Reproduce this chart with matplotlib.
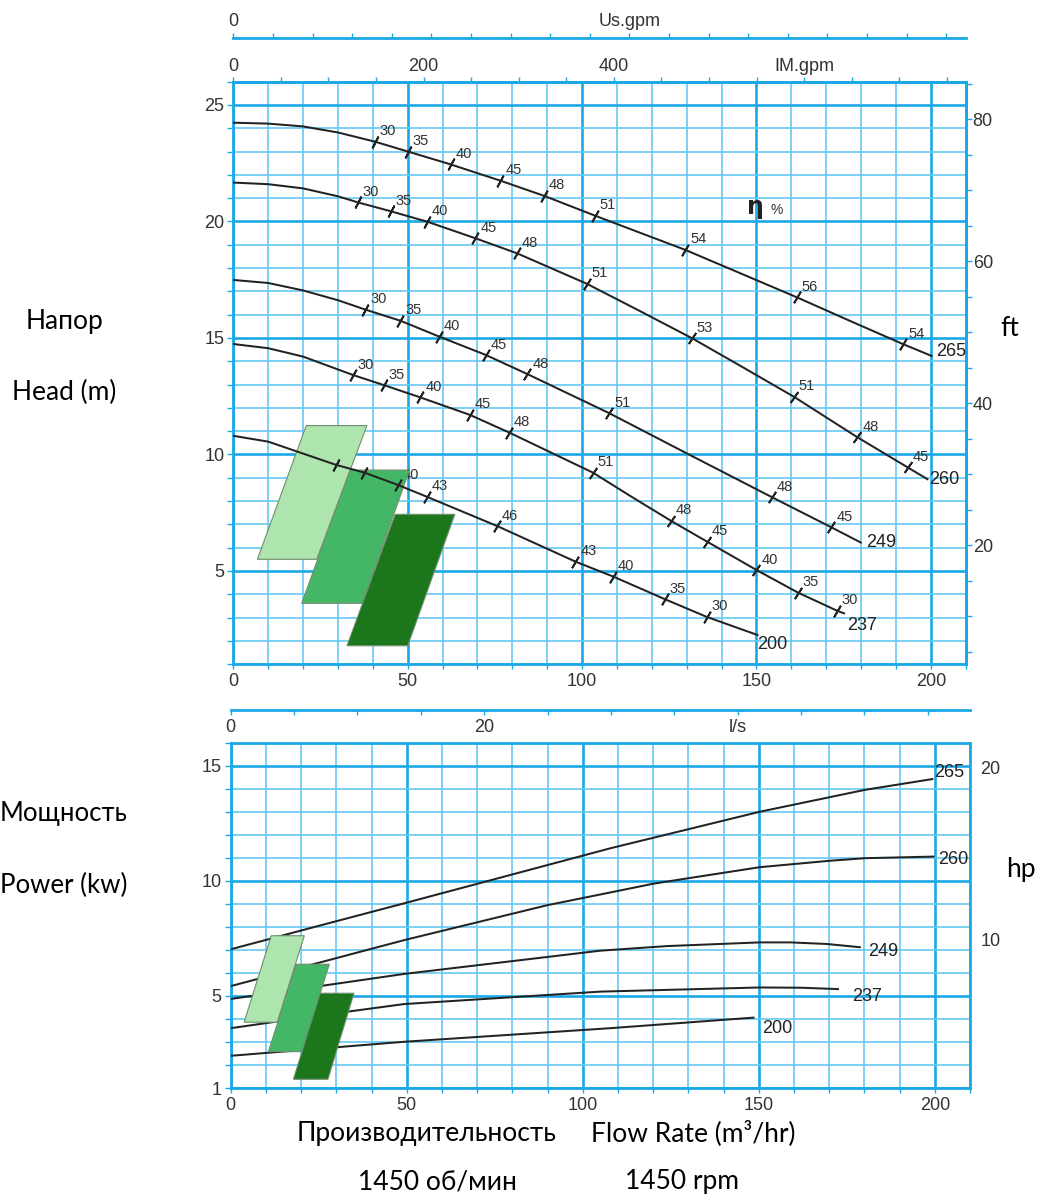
import numpy as np
import matplotlib
matplotlib.use('Agg')
import matplotlib.pyplot as plt
from matplotlib.patches import Polygon

# ---- Courbes de hauteur H(Q) : Q en m3/h, H en m ----
q_265 = [0, 10, 20, 30, 40.5, 50.1, 62.3, 76.6, 89.1, 103.7, 116, 129.6, 145, 161.5, 177, 192.1, 200.2]
h_265 = [24.24, 24.2, 24.08, 23.82, 23.43, 23.0, 22.45, 21.75, 21.1, 20.25, 19.55, 18.78, 17.8, 16.75, 15.72, 14.73, 14.23]
q_260 = [0, 10, 20, 30, 35.7, 45.1, 55.6, 69.4, 81.4, 101.3, 116, 131.5, 146, 160.7, 178.9, 193.3, 199]
h_260 = [21.67, 21.6, 21.42, 21.08, 20.82, 20.44, 19.99, 19.28, 18.63, 17.33, 16.2, 14.99, 13.75, 12.48, 10.74, 9.45, 8.94]
q_249 = [0, 10, 20, 30, 37.8, 47.9, 59, 72.4, 84.3, 107.8, 131, 154.5, 171.5, 179.9]
h_249 = [17.49, 17.36, 17.04, 16.62, 16.22, 15.74, 15.06, 14.27, 13.45, 11.77, 9.97, 8.16, 6.87, 6.22]
q_237 = [0, 10, 20, 34.3, 43.1, 53.6, 67.8, 79.1, 103.1, 114, 125.5, 135.8, 150, 161.9, 173, 175.1]
h_237 = [14.74, 14.56, 14.2, 13.41, 12.98, 12.45, 11.7, 10.94, 9.22, 8.2, 7.15, 6.26, 5.04, 4.07, 3.3, 3.18]
q_200 = [0, 10, 18, 29.5, 37.6, 47.2, 55.4, 75.6, 98.1, 108.9, 123.7, 135.7, 150.3]
h_200 = [10.8, 10.55, 10.14, 9.55, 9.22, 8.69, 8.19, 6.93, 5.40, 4.76, 3.79, 3.03, 2.25]

# ---- Rendement (%) le long de chaque courbe ----
eff_q_265 = [40.5, 50.1, 62.3, 76.6, 89.1, 103.7, 129.6, 161.5, 192.1]
eff_265 = ['30', '35', '40', '45', '48', '51', '54', '56', '54']
eff_q_260 = [35.7, 45.1, 55.6, 69.4, 81.4, 101.3, 131.5, 160.7, 178.9, 193.3]
eff_260 = ['30', '35', '40', '45', '48', '51', '53', '51', '48', '45']
eff_q_249 = [37.8, 47.9, 59, 72.4, 84.3, 107.8, 154.5, 171.5]
eff_249 = ['30', '35', '40', '45', '48', '51', '48', '45']
eff_q_237 = [34.3, 43.1, 53.6, 67.8, 79.1, 103.1, 125.5, 135.8, 150, 161.9, 173]
eff_237 = ['30', '35', '40', '45', '48', '51', '48', '45', '40', '35', '30']
eff_q_200 = [29.5, 37.6, 47.2, 55.4, 75.6, 98.1, 108.9, 123.7, 135.7]
# les deux premiers repères sont masqués par le logo sur l'original
eff_200 = ['', '', '40', '43', '46', '43', '40', '35', '30']

# ---- Puissance P(Q) en kW ----
pq_265 = [0, 25, 49.3, 107.8, 150.3, 180.1, 199.3]
p_265 = [7.03, 8.05, 9.03, 11.42, 13.01, 13.96, 14.43]
pq_260 = [0, 49.3, 90, 107.8, 120, 130, 150.3, 170.3, 180.1, 199.6]
p_260 = [5.43, 7.43, 8.95, 9.5, 9.88, 10.12, 10.6, 10.88, 10.99, 11.06]
pq_249 = [0, 49.3, 105, 124, 150.3, 159, 169.4, 178.7]
p_249 = [4.87, 5.96, 6.97, 7.17, 7.33, 7.33, 7.26, 7.12]
pq_237 = [0, 25, 49.3, 105, 150.3, 161.9, 172.5]
p_237 = [3.6, 4.15, 4.65, 5.19, 5.37, 5.36, 5.3]
pq_200 = [0, 49.3, 107.8, 148.5]
p_200 = [2.4, 3.01, 3.6, 4.06]

diametres = ['265', '260', '249', '237', '200']

# Axes secondaires
us_ticks = np.arange(0, 901, 50)
us_labels = ['0' if t == 0 else ('Us.gpm' if t == 500 else '') for t in us_ticks]
im_ticks = np.arange(0, 751, 50)
im_labels = [{0: '0', 200: '200', 400: '400', 600: 'IM.gpm'}.get(t, '') for t in im_ticks]
ls_ticks = np.arange(0, 56, 5)
ls_labels = [{0: '0', 20: '20', 40: 'l/s'}.get(t, '') for t in ls_ticks]
ft_ticks = np.arange(5, 86, 5)
ft_labels = [str(t) if t in (20, 40, 60, 80) else '' for t in ft_ticks]
hp_ticks = [10, 20]

# Logo vert (parallélogrammes), en coordonnées de données
logo_top = [
    ([(20.9, 11.24), (38.3, 11.24), (23.9, 5.5), (6.9, 5.5)], '#aee4ad'),
    ([(33.5, 9.33), (50.5, 9.33), (36.9, 3.61), (19.6, 3.61)], '#44b766'),
    ([(46.4, 7.43), (63.5, 7.43), (50.0, 1.79), (32.6, 1.79)], '#1c761c'),
]
logo_bot = [
    ([(11.5, 7.62), (20.9, 7.62), (13.2, 3.86), (3.8, 3.86)], '#aee4ad'),
    ([(18.6, 6.38), (28.0, 6.38), (20.2, 2.58), (10.7, 2.58)], '#44b766'),
    ([(25.4, 5.12), (35.0, 5.12), (27.6, 1.38), (17.8, 1.38)], '#1c761c'),
]

BLUE = '#1aa8e6'
BLUE_MIN = '#66caf2'
INK = '#222222'
TXT = '#333333'
SANS = ['Lato', 'Noto Sans', 'DejaVu Sans']

plt.rcParams['font.family'] = ['Liberation Sans', 'DejaVu Sans']

fig = plt.figure(figsize=(10.38, 11.96), dpi=100)
ax1 = fig.add_axes([0.2248, 0.4447, 0.7056, 0.4870])
ax2 = fig.add_axes([0.2223, 0.0903, 0.7122, 0.2885])


def style_grid(ax, ylim, ymajor, yminor):
    ax.set_xlim(0, 210)
    ax.set_ylim(*ylim)
    ax.set_xticks([0, 50, 100, 150, 200])
    ax.set_xticks(np.arange(0, 211, 10), minor=True)
    ax.set_yticks(ymajor)
    ax.set_yticks(yminor, minor=True)
    ax.set_axisbelow(True)
    ax.grid(which='major', color=BLUE, lw=1.9)
    ax.grid(which='minor', color=BLUE_MIN, lw=1.2)
    for s in ax.spines.values():
        s.set_color(BLUE)
        s.set_linewidth(2.0)
    ax.tick_params(which='both', direction='out', color=BLUE, width=1.0,
                   labelsize=13, labelcolor=TXT)
    ax.tick_params(axis='y', which='both', length=4.3, pad=2.2)
    ax.tick_params(axis='x', which='both', length=3.6, pad=3)


def style_sec(sec, length, pad):
    for s in sec.spines.values():
        s.set_color(BLUE)
        s.set_linewidth(2.0)
    sec.tick_params(direction='out', color=BLUE, width=1.0, length=length,
                    pad=pad, labelsize=13, labelcolor=TXT)


# ================= Graphique du haut : hauteur =================
style_grid(ax1, (1, 26), [5, 10, 15, 20, 25], np.arange(1, 27, 1))

head = [(q_265, h_265, eff_q_265, eff_265),
        (q_260, h_260, eff_q_260, eff_260),
        (q_249, h_249, eff_q_249, eff_249),
        (q_237, h_237, eff_q_237, eff_237),
        (q_200, h_200, eff_q_200, eff_200)]
head_lbl_off = [(3, 3), (1.5, 0), (3.5, 0), (2, -9), (0, -6.5)]

for (q, h, eq, el), name, off in zip(head, diametres, head_lbl_off):
    ax1.plot(q, h, color=INK, lw=1.45, zorder=4)
    ax1.annotate(name, (q[-1], h[-1]), xytext=off, textcoords='offset points',
                 fontsize=13, color=INK, ha='left', va='center', zorder=6)
    for q0, lbl in zip(eq, el):
        h0 = np.interp(q0, q, h)
        # orientation du trait de rendement selon la pente locale
        p1 = ax1.transData.transform((q0 - 2, np.interp(q0 - 2, q, h)))
        p2 = ax1.transData.transform((q0 + 2, np.interp(q0 + 2, q, h)))
        phi = np.degrees(np.arctan2(p2[1] - p1[1], p2[0] - p1[0]))
        ang = -28 + 0.5 * (phi + 18)
        ax1.plot([q0], [h0], ls='none', marker=(2, 2, ang), ms=9.5,
                 mec=INK, mew=1.3, zorder=5)
        if lbl:
            ax1.annotate(lbl, (q0, h0), xytext=(3.5, 7.5), textcoords='offset points',
                         fontsize=10.5, color=TXT, ha='left', va='center', zorder=2.5)

for verts, col in logo_top:
    ax1.add_patch(Polygon(verts, closed=True, fc=col, ec='#6f8f6f', lw=0.8, zorder=3))

ax1.text(149.8, 20.6, 'η', fontsize=17, fontweight='bold', color=INK,
         ha='center', va='center', family='DejaVu Sans')
ax1.text(155.8, 20.5, '%', fontsize=10, color=TXT, ha='center', va='center')

im = ax1.secondary_xaxis('top', functions=(lambda q: q * 3.666, lambda g: g / 3.666))
im.set_ticks(im_ticks, im_labels)
style_sec(im, 3.6, 1)

us = ax1.secondary_xaxis(1.075, functions=(lambda q: q * 4.403, lambda g: g / 4.403))
us.set_ticks(us_ticks, us_labels)
style_sec(us, 3.6, 2)

ft = ax1.secondary_yaxis('right', functions=(lambda m: m * 3.281, lambda f: f / 3.281))
ft.set_ticks(ft_ticks, ft_labels)
style_sec(ft, 4.3, 0.7)

# ================= Graphique du bas : puissance =================
style_grid(ax2, (1, 16), [1, 5, 10, 15], np.arange(1, 17, 1))

power = [(pq_265, p_265), (pq_260, p_260), (pq_249, p_249), (pq_237, p_237), (pq_200, p_200)]
pow_lbl_off = [(1.5, 5), (3.5, -2.4), (6, -3), (10, -5), (6, -8)]
for (q, p), name, off in zip(power, diametres, pow_lbl_off):
    ax2.plot(q, p, color=INK, lw=1.45, zorder=4)
    ax2.annotate(name, (q[-1], p[-1]), xytext=off, textcoords='offset points',
                 fontsize=13, color=INK, ha='left', va='center', zorder=6)

for verts, col in logo_bot:
    ax2.add_patch(Polygon(verts, closed=True, fc=col, ec='#6f8f6f', lw=0.8, zorder=5))

ls = ax2.secondary_xaxis(1.0957, functions=(lambda q: q / 3.6, lambda l: l * 3.6))
ls.set_alignment('bottom')
ls.set_ticks(ls_ticks, ls_labels)
style_sec(ls, 3.6, 3)

hp = ax2.secondary_yaxis('right', functions=(lambda k: k * 1.341, lambda h: h / 1.341))
hp.set_ticks(hp_ticks, [str(t) for t in hp_ticks])
style_sec(hp, 0, 7.5)
hp.spines['right'].set_visible(False)

# ================= Textes =================
def px(x, y):
    return x / 1038, 1 - y / 1196

fig.text(*px(64, 322), 'Напор', fontsize=19, family=SANS, ha='center', va='center')
fig.text(*px(64, 392), 'Head (m)', fontsize=19, family=SANS, ha='center', va='center')
fig.text(*px(64, 813), 'Мощность', fontsize=18.5, family=SANS, ha='center', va='center')
fig.text(*px(64, 885), 'Power (kw)', fontsize=18.5, family=SANS, ha='center', va='center')
fig.text(*px(1010, 328), 'ft', fontsize=19, family=SANS, ha='center', va='center')
fig.text(*px(1021, 870), 'hp', fontsize=19, family=SANS, ha='center', va='center')
fig.text(*px(427, 1133), 'Производительность', fontsize=19, family=SANS, ha='center', va='center')
fig.text(*px(693, 1133), 'Flow Rate (m³/hr)', fontsize=19, family=SANS, ha='center', va='center')
fig.text(*px(437, 1182), '1450 об/мин', fontsize=19, family=SANS, ha='center', va='center')
fig.text(*px(682, 1182), '1450 rpm', fontsize=19, family=SANS, ha='center', va='center')

fig.savefig('out.png', dpi=100)
